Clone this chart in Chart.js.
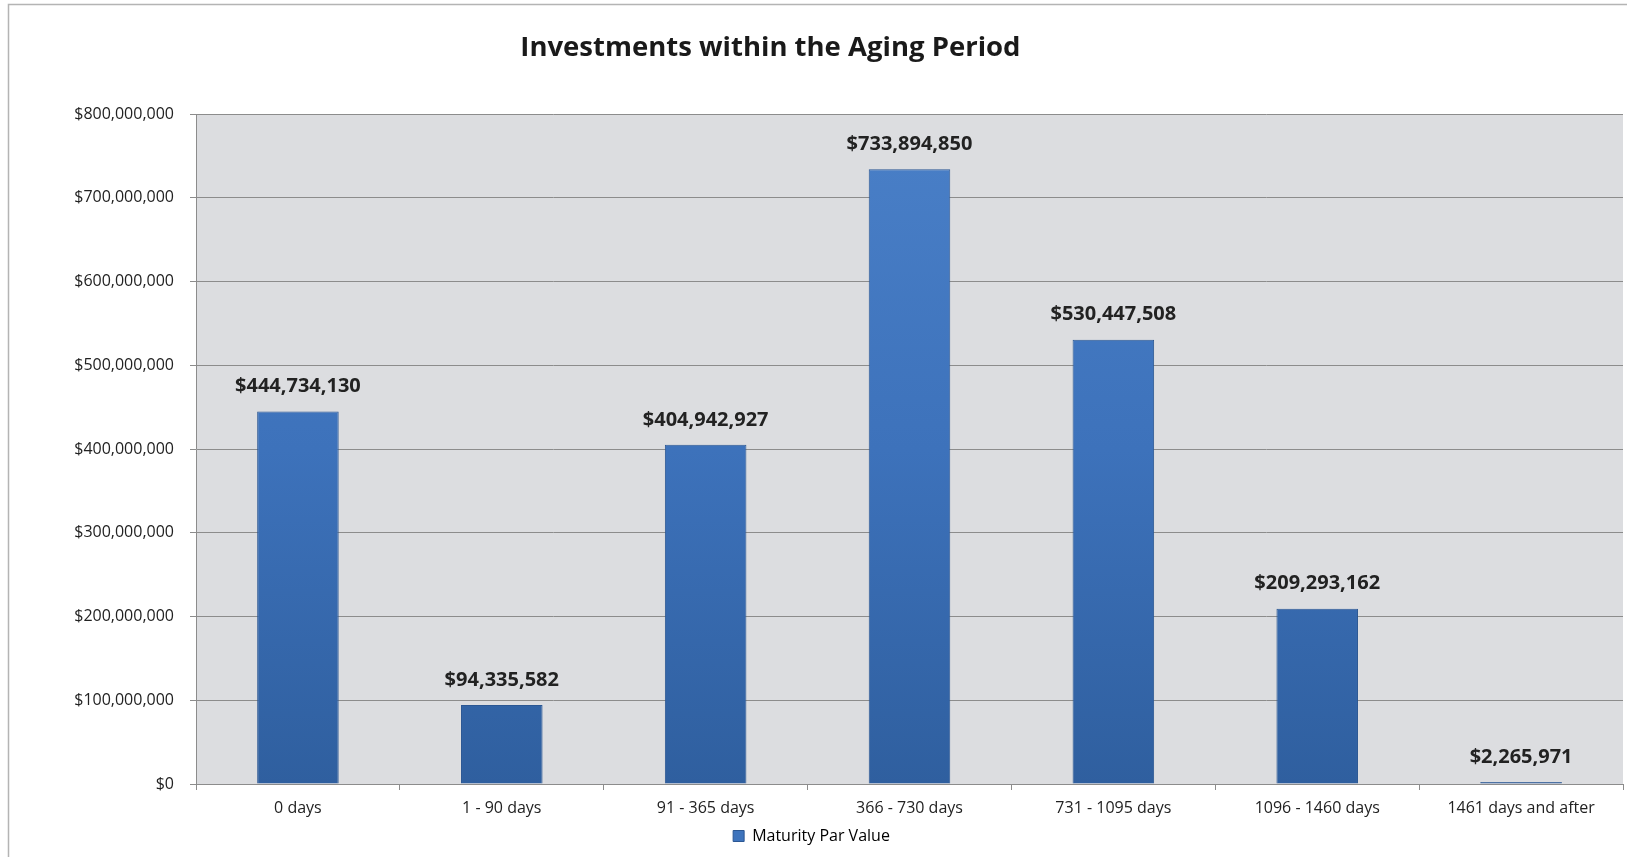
<!DOCTYPE html>
<html>
<head>
<meta charset="utf-8">
<script src="https://cdn.jsdelivr.net/npm/chart.js@4/dist/chart.umd.min.js"></script>
<style>
  html, body { margin: 0; padding: 0; background: #fff; }
  #wrap { width: 1627px; height: 857px; position: relative; }
</style>
</head>
<body>
<div id="wrap"><canvas id="agingChart"></canvas></div>
<script>
const categories = ['0 days', '1 - 90 days', '91 - 365 days', '366 - 730 days', '731 - 1095 days', '1096 - 1460 days', '1461 days and after'];
const parValues = [444734130, 94335582, 404942927, 733894850, 530447508, 209293162, 2265971];
const seriesName = 'Maturity Par Value';
const chartTitle = 'Investments within the Aging Period';

const money = v => '$' + Number(v).toLocaleString('en-US');
const FONT = "'Open Sans', 'Noto Sans', sans-serif";

// grey plot background, outer frame and title
const frame = {
    id: 'frame',
    beforeDraw(chart) {
        const { ctx, chartArea: a } = chart;
        ctx.save();
        ctx.fillStyle = '#dcdde0';
        ctx.fillRect(a.left, a.top, a.right - a.left, a.bottom - a.top);
        ctx.strokeStyle = '#b4b4b4';
        ctx.lineWidth = 1.5;
        ctx.beginPath();
        ctx.moveTo(8.5, chart.height);
        ctx.lineTo(8.5, 4.5);
        ctx.lineTo(chart.width, 4.5);
        ctx.stroke();
        ctx.restore();
    },
    afterDraw(chart) {
        const ctx = chart.ctx;
        ctx.save();
        ctx.font = 'bold 27.5px ' + FONT;
        ctx.fillStyle = '#1a1a1a';
        ctx.textAlign = 'center';
        ctx.textBaseline = 'middle';
        ctx.fillText(chartTitle, chart.width * 0.4735, 48);
        ctx.restore();
    }
};

// value labels above bars
const valueLabels = {
    id: 'valueLabels',
    afterDatasetsDraw(chart) {
        const ctx = chart.ctx;
        const meta = chart.getDatasetMeta(0);
        ctx.save();
        ctx.font = 'bold 20px ' + FONT;
        ctx.fillStyle = '#222';
        ctx.textAlign = 'center';
        ctx.textBaseline = 'middle';
        meta.data.forEach((bar, i) => {
            ctx.fillText(money(parValues[i]), bar.x, bar.y - 25);
        });
        ctx.restore();
    }
};

function barFill(context) {
    const chart = context.chart;
    const a = chart.chartArea;
    if (!a) return '#3d72bb';
    const g = chart.ctx.createLinearGradient(0, a.top, 0, a.bottom);
    g.addColorStop(0, '#4a80c8');
    g.addColorStop(0.5, '#3d72bb');
    g.addColorStop(1, '#2f5f9f');
    return g;
}

const ctx = document.getElementById('agingChart').getContext('2d');
new Chart(ctx, {
    type: 'bar',
    data: {
        labels: categories,
        datasets: [{
            label: seriesName,
            data: parValues,
            backgroundColor: barFill,
            borderColor: '#2b5793',
            borderWidth: 1,
            barPercentage: 0.4,
            categoryPercentage: 1.0
        }]
    },
    options: {
        responsive: true,
        maintainAspectRatio: false,
        animation: false,
        layout: { padding: { top: 114, right: 4, bottom: 3, left: 0 } },
        plugins: {
            title: { display: false },
            tooltip: { enabled: false },
            legend: {
                position: 'bottom',
                labels: {
                    boxWidth: 11,
                    boxHeight: 11,
                    padding: 6,
                    color: '#222',
                    font: { family: FONT, size: 16 },
                    generateLabels: chart => [{
                        text: seriesName,
                        fillStyle: '#3e74bd',
                        strokeStyle: '#2b5793',
                        lineWidth: 1,
                        datasetIndex: 0
                    }]
                }
            }
        },
        scales: {
            x: {
                grid: {
                    offset: true,
                    drawOnChartArea: false,
                    drawTicks: true,
                    tickLength: 6,
                    color: '#8c8c8c'
                },
                border: { color: '#8c8c8c' },
                ticks: {
                    padding: 9,
                    color: '#222',
                    font: { family: FONT, size: 16 },
                    maxRotation: 0
                },
                afterFit: scale => { scale.height = 38; }
            },
            y: {
                min: 0,
                max: 800000000,
                grid: {
                    color: '#8c8c8c',
                    tickLength: 6
                },
                border: { color: '#8c8c8c' },
                ticks: {
                    stepSize: 100000000,
                    padding: 16,
                    color: '#222',
                    font: { family: FONT, size: 16 },
                    callback: value => money(value)
                },
                afterFit: scale => { scale.width = 196; }
            }
        }
    },
    plugins: [frame, valueLabels]
});
</script>
</body>
</html>
